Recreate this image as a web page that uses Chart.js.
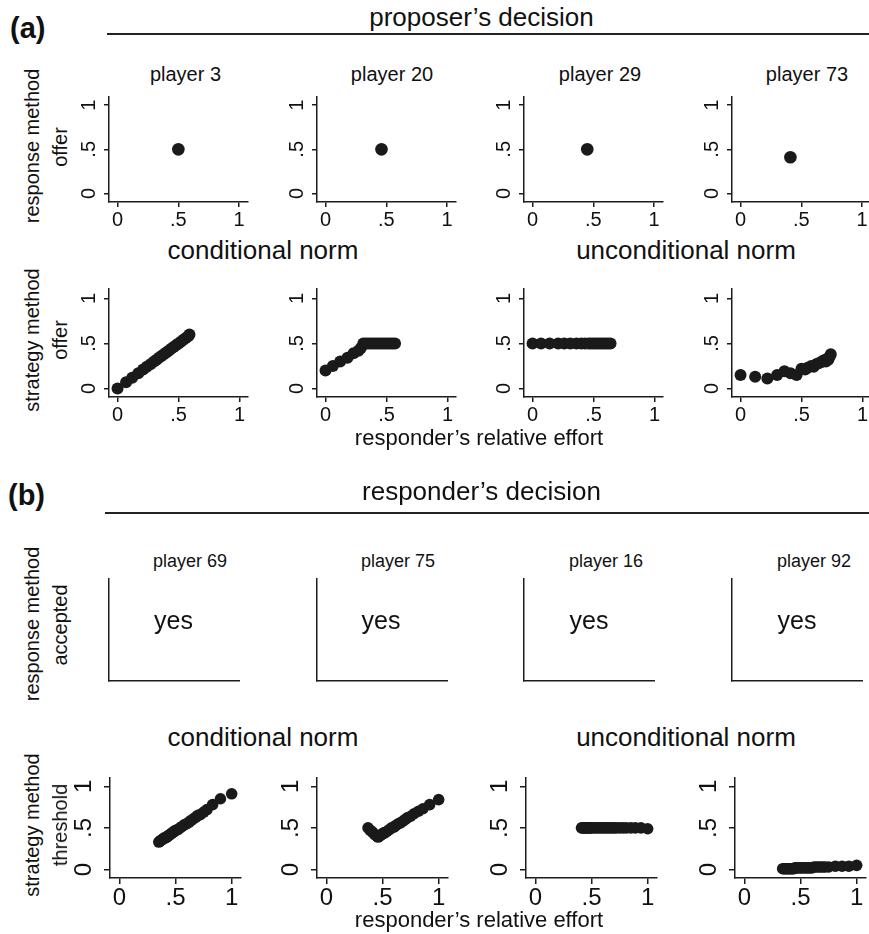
<!DOCTYPE html>
<html><head><meta charset="utf-8">
<script src="https://cdn.jsdelivr.net/npm/chart.js@4.4.1/dist/chart.umd.min.js"></script>
<style>
html,body{margin:0;padding:0;background:#fff;overflow:hidden;width:869px;height:934px}
#root{position:relative;width:869px;height:934px;overflow:hidden;font-family:"Liberation Sans",Arial,Helvetica,sans-serif;color:#111}
canvas{position:absolute}
.t{position:absolute;white-space:nowrap;line-height:1}
.rule{position:absolute;height:2px;background:#222}
</style></head><body><div id="root"></div><script>
// ---------------- data ----------------
const tickValues = [0, 0.5, 1];
const tickLabels = ['0', '.5', '1'];

// (a) proposer's decision
const proposerPlayers = ['player 3', 'player 20', 'player 29', 'player 73'];
const proposerResponseX = [0.5, 0.46, 0.45, 0.41];
const proposerResponseY = [0.5, 0.5, 0.5, 0.41];

const p3StrategyX = [0, 0.07, 0.12, 0.17, 0.21, 0.24, 0.27, 0.30, 0.32, 0.34, 0.36, 0.38, 0.40, 0.42, 0.44, 0.46, 0.48, 0.50, 0.52, 0.54, 0.56, 0.58, 0.59];
const p3StrategyY = [0, 0.07, 0.12, 0.17, 0.21, 0.24, 0.27, 0.30, 0.32, 0.34, 0.36, 0.38, 0.40, 0.42, 0.44, 0.46, 0.48, 0.50, 0.52, 0.54, 0.56, 0.58, 0.60];
const p20StrategyX = [0, 0.06, 0.12, 0.18, 0.23, 0.27, 0.29, 0.31, 0.33, 0.35, 0.37, 0.39, 0.41, 0.43, 0.45, 0.47, 0.49, 0.51, 0.53, 0.55, 0.57];
const p20StrategyY = [0.20, 0.25, 0.30, 0.34, 0.39, 0.42, 0.45, 0.5, 0.5, 0.5, 0.5, 0.5, 0.5, 0.5, 0.5, 0.5, 0.5, 0.5, 0.5, 0.5, 0.5];
const p29StrategyX = [0, 0.07, 0.14, 0.21, 0.26, 0.31, 0.36, 0.40, 0.43, 0.46, 0.48, 0.50, 0.52, 0.54, 0.56, 0.58, 0.60, 0.62, 0.64];
const p29StrategyY = [0.5, 0.5, 0.5, 0.5, 0.5, 0.5, 0.5, 0.5, 0.5, 0.5, 0.5, 0.5, 0.5, 0.5, 0.5, 0.5, 0.5, 0.5, 0.5];
const p73StrategyX = [0, 0.12, 0.22, 0.30, 0.36, 0.41, 0.46, 0.50, 0.53, 0.55, 0.58, 0.60, 0.62, 0.64, 0.66, 0.68, 0.70, 0.71, 0.72, 0.73, 0.74];
const p73StrategyY = [0.15, 0.13, 0.11, 0.15, 0.19, 0.17, 0.15, 0.22, 0.21, 0.23, 0.25, 0.24, 0.27, 0.28, 0.29, 0.31, 0.30, 0.33, 0.32, 0.35, 0.38];

// (b) responder's decision
const responderPlayers = ['player 69', 'player 75', 'player 16', 'player 92'];
const responderResponse = ['yes', 'yes', 'yes', 'yes'];

const p69StrategyX = [0.35, 0.36, 0.37, 0.38, 0.39, 0.40, 0.41, 0.42, 0.43, 0.44, 0.45, 0.46, 0.47, 0.48, 0.49, 0.50, 0.52, 0.54, 0.56, 0.58, 0.60, 0.62, 0.64, 0.66, 0.68, 0.70, 0.72, 0.75, 0.78, 0.83, 0.90, 1.00];
const p69StrategyY = [0.33, 0.34, 0.35, 0.36, 0.37, 0.38, 0.38, 0.39, 0.40, 0.41, 0.42, 0.43, 0.44, 0.45, 0.46, 0.47, 0.48, 0.50, 0.52, 0.54, 0.55, 0.57, 0.59, 0.61, 0.63, 0.65, 0.66, 0.69, 0.72, 0.78, 0.85, 0.91];
const p75StrategyX = [0.37, 0.39, 0.41, 0.43, 0.45, 0.46, 0.47, 0.48, 0.49, 0.50, 0.51, 0.52, 0.54, 0.56, 0.58, 0.60, 0.62, 0.64, 0.66, 0.68, 0.70, 0.72, 0.75, 0.78, 0.82, 0.86, 0.92, 1.00];
const p75StrategyY = [0.50, 0.47, 0.45, 0.42, 0.40, 0.39, 0.40, 0.41, 0.42, 0.43, 0.44, 0.44, 0.46, 0.48, 0.50, 0.51, 0.53, 0.55, 0.56, 0.58, 0.60, 0.62, 0.64, 0.67, 0.70, 0.73, 0.78, 0.84];
const p16StrategyX = [0.41, 0.42, 0.43, 0.44, 0.45, 0.46, 0.47, 0.48, 0.49, 0.50, 0.52, 0.54, 0.56, 0.58, 0.60, 0.62, 0.64, 0.66, 0.68, 0.70, 0.72, 0.75, 0.78, 0.81, 0.85, 0.89, 0.94, 1.00];
const p16StrategyY = [0.5, 0.5, 0.5, 0.5, 0.5, 0.5, 0.5, 0.5, 0.5, 0.5, 0.5, 0.5, 0.5, 0.5, 0.5, 0.5, 0.5, 0.5, 0.5, 0.5, 0.5, 0.5, 0.5, 0.5, 0.5, 0.5, 0.5, 0.49];
const p92StrategyX = [0.34, 0.35, 0.36, 0.37, 0.38, 0.39, 0.40, 0.41, 0.42, 0.43, 0.44, 0.45, 0.46, 0.48, 0.50, 0.52, 0.54, 0.56, 0.58, 0.60, 0.62, 0.64, 0.66, 0.68, 0.70, 0.72, 0.75, 0.81, 0.87, 0.93, 1.00];
const p92StrategyY = [0.01, 0.01, 0.01, 0.01, 0.01, 0.01, 0.01, 0.01, 0.01, 0.01, 0.01, 0.02, 0.02, 0.02, 0.02, 0.02, 0.02, 0.02, 0.02, 0.02, 0.03, 0.03, 0.03, 0.03, 0.03, 0.03, 0.03, 0.04, 0.04, 0.04, 0.05];

// ---------------- drawing ----------------
const FONT = '"Liberation Sans", Arial, Helvetica, sans-serif';
const TEXT = '#111';
const AXIS = '#1c1c1c';
const MARK = '#1a1a1a';
Chart.defaults.font.family = FONT;
Chart.defaults.color = TEXT;

const root = document.getElementById('root');

function addText(txt, cx, baseline, size, bold, alignLeft) {
  const d = document.createElement('div');
  d.className = 't';
  d.textContent = txt;
  d.style.fontSize = size + 'px';
  if (bold) d.style.fontWeight = 'bold';
  d.style.top = (baseline - 0.8465 * size) + 'px';
  d.style.left = cx + 'px';
  if (!alignLeft) d.style.transform = 'translateX(-50%)';
  root.appendChild(d);
}
function addVText(txt, cx, cy, size) {
  const d = document.createElement('div');
  d.className = 't';
  d.textContent = txt;
  d.style.fontSize = size + 'px';
  d.style.left = cx + 'px';
  d.style.top = cy + 'px';
  d.style.transform = 'translate(-50%,-50%) rotate(-90deg)';
  root.appendChild(d);
}
function addRule(x1, x2, y) {
  const d = document.createElement('div');
  d.className = 'rule';
  d.style.left = x1 + 'px';
  d.style.width = (x2 - x1) + 'px';
  d.style.top = y + 'px';
  root.appendChild(d);
}

function makePanel(p) {
  const w = p.R - p.L + p.wy, h = p.B - p.T + p.hx;
  const c = document.createElement('canvas');
  c.width = w; c.height = h;
  c.style.left = (p.L - p.wy) + 'px';
  c.style.top = p.T + 'px';
  c.style.width = w + 'px';
  c.style.height = h + 'px';
  root.appendChild(c);
  const fixTicks = s => { s.ticks = tickValues.map(v => ({ value: v })); };
  const fit = (dim, size) => s => {
    s[dim] = size;
    s.paddingLeft = 0; s.paddingRight = 0; s.paddingTop = 0; s.paddingBottom = 0;
  };
  const show = p.ticks;
  const pts = (p.xs || []).map((x, i) => ({ x: x, y: p.ys[i] }));
  new Chart(c, {
    type: 'scatter',
    data: { datasets: [{ data: pts, pointRadius: p.radius || 6, pointHoverRadius: p.radius || 6,
      backgroundColor: MARK, pointBackgroundColor: MARK, borderWidth: 0, pointBorderWidth: 0 }] },
    options: {
      responsive: false, animation: false, devicePixelRatio: 1, events: [],
      layout: { padding: 0 },
      plugins: { legend: { display: false }, tooltip: { enabled: false } },
      scales: {
        x: {
          type: 'linear', position: 'bottom', min: p.xr[0], max: p.xr[1],
          afterBuildTicks: fixTicks, afterFit: fit('height', p.hx),
          ticks: { display: show, callback: v => tickLabels[tickValues.indexOf(v)],
            font: { size: p.font, family: FONT }, color: TEXT, padding: p.padX,
            autoSkip: false, minRotation: 0, maxRotation: 0 },
          grid: { display: show, drawOnChartArea: false, drawTicks: show, tickLength: p.tl,
            color: AXIS, tickColor: AXIS, lineWidth: 1.5, tickWidth: 1.5 },
          border: { display: true, color: AXIS, width: 1.5 }
        },
        y: {
          type: 'linear', position: 'left', min: p.yr[0], max: p.yr[1],
          afterBuildTicks: fixTicks, afterFit: fit('width', p.wy),
          ticks: { display: show, callback: v => tickLabels[tickValues.indexOf(v)],
            font: { size: p.font, family: FONT }, color: TEXT, padding: p.padY,
            autoSkip: false, minRotation: 90, maxRotation: 90, crossAlign: 'center' },
          grid: { display: show, drawOnChartArea: false, drawTicks: show, tickLength: p.tl,
            color: AXIS, tickColor: AXIS, lineWidth: 1.5, tickWidth: 1.5 },
          border: { display: true, color: AXIS, width: 1.5 }
        }
      }
    }
  });
}

// ---- layout ----
const colL_a = [109, 317, 524, 732];
const colL_b3 = [109, 317, 524, 732];
const colL_b4 = [110, 317, 526, 735];

// row 1: proposer response method
proposerPlayers.forEach((name, i) => {
  makePanel({ L: colL_a[i], R: colL_a[i] + 145, T: 90, B: 202, wy: 34, hx: 32,
    xr: [-0.07, 1.07], yr: [-0.096, 1.1], xs: [proposerResponseX[i]], ys: [proposerResponseY[i]],
    radius: 6.3, font: 20, tl: 5, padX: 1, padY: 6, ticks: true });
});
// row 2: proposer strategy method
const propStratX = [p3StrategyX, p20StrategyX, p29StrategyX, p73StrategyX];
const propStratY = [p3StrategyY, p20StrategyY, p29StrategyY, p73StrategyY];
propStratX.forEach((xs, i) => {
  makePanel({ L: colL_a[i], R: colL_a[i] + 145, T: 283, B: 397, wy: 34, hx: 32,
    xr: [-0.07, 1.07], yr: [-0.095, 1.105], xs: xs, ys: propStratY[i],
    radius: 6, font: 20, tl: 5, padX: 1, padY: 6, ticks: true });
});
// row 3: responder response method (axes only)
responderPlayers.forEach((name, i) => {
  makePanel({ L: colL_b3[i], R: colL_b3[i] + 131, T: 578, B: 681, wy: 3, hx: 3,
    xr: [-0.07, 1.0], yr: [-0.1, 1.1], xs: [], ys: [], radius: 0, font: 20, tl: 0, padX: 0, padY: 0, ticks: false });
});
// row 4: responder strategy method
const respStratX = [p69StrategyX, p75StrategyX, p16StrategyX, p92StrategyX];
const respStratY = [p69StrategyY, p75StrategyY, p16StrategyY, p92StrategyY];
respStratX.forEach((xs, i) => {
  makePanel({ L: colL_b4[i], R: colL_b4[i] + 137, T: 772, B: 878, wy: 46, hx: 38,
    xr: [-0.085, 1.085], yr: [-0.102, 1.102], xs: xs, ys: respStratY[i],
    radius: 5.8, font: 24, tl: 6, padX: 0, padY: 10, ticks: true });
});

// ---- texts ----
addText('(a)', 10, 39, 29, true, true);
addText('proposer\u2019s decision', 481.5, 26, 26);
addRule(107, 869, 33);
const rowPlayerCx_a = [185.5, 392, 600, 807];
proposerPlayers.forEach((n, i) => addText(n, rowPlayerCx_a[i], 81, 20));
addVText('response method', 32, 146, 20);
addVText('offer', 60, 147, 20);
addText('conditional norm', 263, 259, 26);
addText('unconditional norm', 686, 259, 26);
addVText('strategy method', 32, 340, 20);
addVText('offer', 60, 340, 20);
addText('responder\u2019s relative effort', 479, 446, 22);

addText('(b)', 8, 506, 29, true, true);
addText('responder\u2019s decision', 481.5, 500, 26);
addRule(105, 869, 512);
const rowPlayerCx_b = [190, 398, 606, 814];
responderPlayers.forEach((n, i) => addText(n, rowPlayerCx_b[i], 567, 18));
const yesCx = [173.5, 381, 589, 797];
responderResponse.forEach((t, i) => addText(t, yesCx[i], 629, 25));
addVText('response method', 32, 624, 20);
addVText('accepted', 60, 625, 20);
addText('conditional norm', 263, 746, 26);
addText('unconditional norm', 686, 746, 26);
addVText('strategy method', 32, 825, 20);
addVText('threshold', 60, 825, 20);
addText('responder\u2019s relative effort', 479, 928, 22);
</script></body></html>
